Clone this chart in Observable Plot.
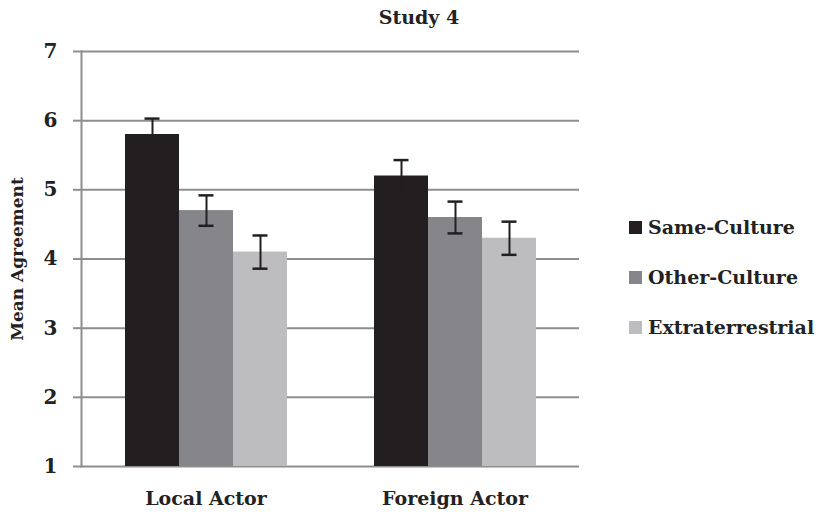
<!DOCTYPE html>
<html>
<head>
<meta charset="utf-8">
<script src="https://cdn.jsdelivr.net/npm/d3@7"></script>
<script src="https://cdn.jsdelivr.net/npm/@observablehq/plot@0.6"></script>
<style>
  html, body { margin: 0; padding: 0; background: #fff; }
  #wrap { position: relative; width: 828px; height: 519px; font-family: "DejaVu Serif", serif; color: #222; }
  #title { position: absolute; left: 0; top: 0; width: 838px; height: 34px; text-align: center; font-weight: bold; font-size: 19px; line-height: 34px; }
  #chart { position: absolute; left: 0; top: 34px; }
  #ylabel { position: absolute; left: 17px; top: 259px; transform: translate(-50%, -50%) rotate(-90deg); white-space: nowrap; font-weight: bold; font-size: 17px; }
  #legend { position: absolute; left: 629px; top: 202px; }
  .row { display: flex; align-items: center; height: 50px; font-weight: bold; font-size: 19px; }
  .sw { width: 13px; height: 13px; margin-right: 6px; }
</style>
</head>
<body>
<div id="wrap">
  <div id="title"></div>
  <div id="chart"></div>
  <div id="ylabel"></div>
  <div id="legend"></div>
</div>
<script>
const title = "Study 4";
const yLabel = "Mean Agreement";
const actors = ["Local Actor", "Foreign Actor"];
const series = ["Same-Culture", "Other-Culture", "Extraterrestrial"];
const colors = ["#231f20", "#86868a", "#bdbdc0"];
const localMeans = [5.8, 4.7, 4.1];
const localErrors = [0.23, 0.22, 0.24];
const foreignMeans = [5.2, 4.6, 4.3];
const foreignErrors = [0.23, 0.23, 0.24];
const yTicks = [1, 2, 3, 4, 5, 6, 7];
const yDomain = [1, 7];

const data = [];
series.forEach((s, i) => {
  data.push({actor: actors[0], series: s, mean: localMeans[i], err: localErrors[i]});
  data.push({actor: actors[1], series: s, mean: foreignMeans[i], err: foreignErrors[i]});
});

document.getElementById("title").textContent = title;
document.getElementById("ylabel").textContent = yLabel;

const gridColor = "#8e8e8e";
const errColor = "#231f20";
const fontFamily = "DejaVu Serif, serif";

const plot = Plot.plot({
  width: 600,
  height: 485,
  marginLeft: 80,
  marginRight: 21,
  marginTop: 17,
  marginBottom: 53,
  style: {fontFamily, fontSize: "19px", fontWeight: "bold", color: "#222", background: "#fff"},
  fx: {domain: actors, padding: 0, label: null},
  x: {domain: series, paddingInner: 0, paddingOuter: 0.764, axis: null},
  y: {domain: yDomain, ticks: yTicks},
  color: {domain: series, range: colors},
  marks: [
    Plot.gridY(yTicks, {stroke: gridColor, strokeOpacity: 1, strokeWidth: 2}),
    Plot.axisY(yTicks, {tickSize: 8, tickPadding: 16, stroke: gridColor, strokeWidth: 2, fill: "#222",
      tickFormat: d3.format("d"), label: null, fontSize: 20}),
    Plot.frame({anchor: "left", facetAnchor: "left", stroke: gridColor, strokeWidth: 2}),
    Plot.axisFx({anchor: "bottom", tickSize: 0, tickPadding: 25, fontSize: 19, label: null}),
    Plot.barY(data, {fx: "actor", x: "series", y1: () => yDomain[0], y2: "mean", fill: "series"}),
    Plot.ruleX(data, {fx: "actor", x: "series", y1: d => d.mean - d.err, y2: d => d.mean + d.err, stroke: errColor, strokeWidth: 2}),
    Plot.tickY(data, {fx: "actor", x: "series", y: d => d.mean + d.err, stroke: errColor, strokeWidth: 2.5, inset: 19.5}),
    Plot.tickY(data, {fx: "actor", x: "series", y: d => d.mean - d.err, stroke: errColor, strokeWidth: 2.5, inset: 19.5})
  ]
});
document.getElementById("chart").appendChild(plot);

const legend = document.getElementById("legend");
series.forEach((s, i) => {
  const row = document.createElement("div");
  row.className = "row";
  const sw = document.createElement("div");
  sw.className = "sw";
  sw.style.background = colors[i];
  const label = document.createElement("span");
  label.textContent = s;
  row.appendChild(sw);
  row.appendChild(label);
  legend.appendChild(row);
});
</script>
</body>
</html>
